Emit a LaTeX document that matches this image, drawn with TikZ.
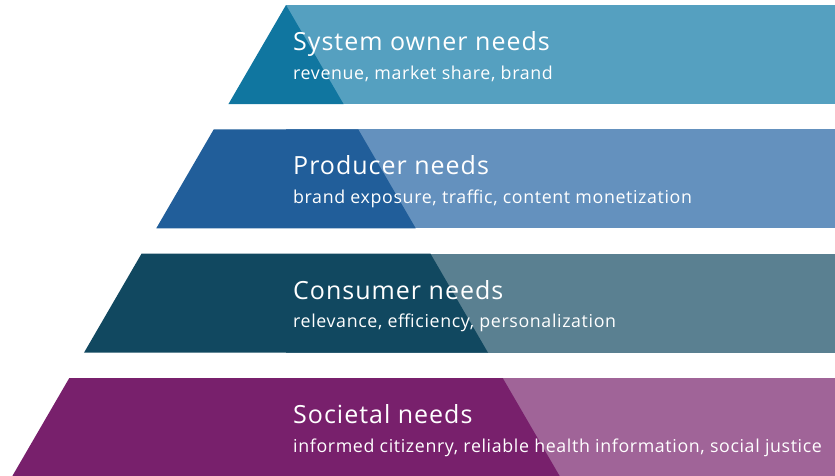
\documentclass[tikz,border=0pt]{standalone}
\usepackage{fontspec}
\setmainfont{Open Sans}
\usepackage{tikz}
\usetikzlibrary{positioning}
\usetikzlibrary{calc}
\definecolor{ownerdark}{RGB}{16,118,160}
\definecolor{ownerlight}{RGB}{85,160,192}
\definecolor{producerdark}{RGB}{33,94,154}
\definecolor{producerlight}{RGB}{100,145,190}
\definecolor{consumerdark}{RGB}{17,72,96}
\definecolor{consumerlight}{RGB}{90,128,145}
\definecolor{societydark}{RGB}{120,32,108}
\definecolor{societylight}{RGB}{160,100,152}
\tikzstyle{title}=[anchor=base west,inner sep=0pt,text=white,font=\fontsize{25}{29}\selectfont\addfontfeature{LetterSpace=4.0}]
\tikzstyle{subtitle}=[anchor=base west,inner sep=0pt,text=white,font=\fontsize{17.8}{21}\selectfont\addfontfeature{LetterSpace=3.5}]

\begin{document}
\begin{tikzpicture}[x=1pt,y=-1pt]
\useasboundingbox (0,0) rectangle (835,475);

% levels of the pyramid, apex at (286,5)
  \foreach \n/\top/\col/\head/\text in {
      {1/5/owner/System owner needs/{revenue, market share, brand}},
      {2/129.3/producer/Producer needs/{brand exposure, traffic, content monetization}},
      {3/253.7/consumer/Consumer needs/{relevance, efficiency, personalization}},
      {4/378/society/Societal needs/{informed citizenry, reliable health information, social justice}}}
  {
    \pgfmathsetmacro{\bot}{\top+99}
    \pgfmathsetmacro{\tl}{286-0.581*(\top-5)}
    \pgfmathsetmacro{\tr}{286+0.581*(\top-5)}
    \pgfmathsetmacro{\bl}{286-0.581*(\bot-5)}
    \pgfmathsetmacro{\br}{286+0.581*(\bot-5)}
    \fill[\col light] (286,\top) rectangle (835,\bot);
    \fill[\col dark] (\tl,\top) -- (\tr,\top) -- (\br,\bot) -- (\bl,\bot) -- cycle;
    \node[title] (head\n) at (293,\top+45.5) {\head};
    \node[subtitle] (text\n) at (293,\top+74) {\text};
  }

\end{tikzpicture}
\end{document}
